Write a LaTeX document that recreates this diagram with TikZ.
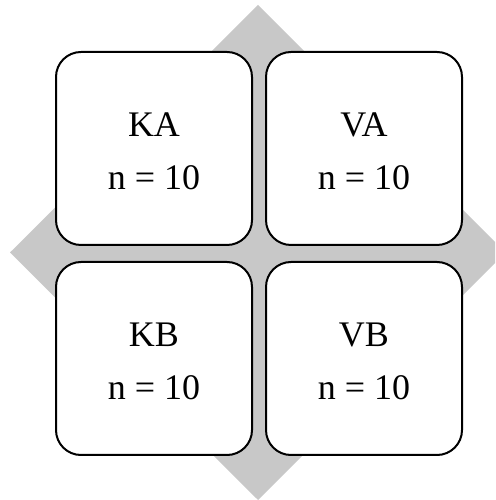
\documentclass[tikz,border=0pt]{standalone}
\usepackage{fontspec}
\setmainfont{Liberation Serif}
\definecolor{diamondgray}{RGB}{200,200,200}
\newcommand{\celltext}[2]{\begin{tabular}{@{}c@{}}\rule{0pt}{45pt}#1\\#2\end{tabular}}
\begin{document}
\begin{tikzpicture}[x=1pt,y=1pt,
  cell/.style={draw=black, line width=2pt, fill=white, rounded corners=25pt,
    minimum width=196pt, minimum height=193pt, align=center,
    font=\fontsize{36}{53}\selectfont, inner sep=0pt}]
\useasboundingbox (0,0) rectangle (495,500);
\clip (0,0) rectangle (495,500);
\fill[diamondgray] (258,495) -- (10,247.5) -- (258,0) -- (505.5,247.5) -- cycle;
\node[cell] (ka) at (154,351.5) {\celltext{KA}{n = 10}};
\node[cell] (va) at (364,351.5) {\celltext{VA}{n = 10}};
\node[cell] (kb) at (154,141.5) {\celltext{KB}{n = 10}};
\node[cell] (vb) at (364,141.5) {\celltext{VB}{n = 10}};
\end{tikzpicture}
\end{document}
